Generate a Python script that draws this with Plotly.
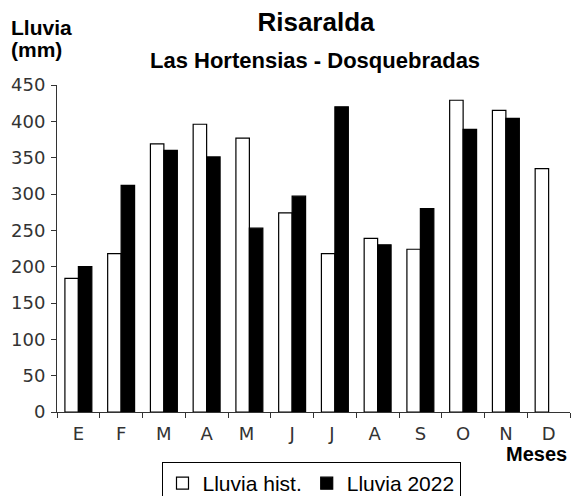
import plotly.graph_objects as go

meses = ["E", "F", "M", "A", "M ", "J", "J ", "A ", "S", "O", "N", "D"]
lluvia_hist = [184, 218, 369, 396, 377, 274, 218, 239, 224, 429, 415, 335]
lluvia_2022 = [200, 312, 360, 351, 253, 297, 420, 230, 280, 389, 404, None]
y_ticks = [0, 50, 100, 150, 200, 250, 300, 350, 400, 450]

W, H = 571, 496
L, R, T, B = 57, 1, 85, 84
pw, ph = W - L - R, H - T - B

def px(x):
    return (x - L) / pw

def py(y):
    return (H - B - y) / ph

fig = go.Figure()
fig.add_trace(go.Bar(x=meses, y=lluvia_hist, name="Lluvia hist.",
                     marker=dict(color="white", line=dict(color="black", width=1.2))))
fig.add_trace(go.Bar(x=meses, y=lluvia_2022, name="Lluvia 2022",
                     marker=dict(color="black", line=dict(color="black", width=1.2))))

tickfont = dict(family="DejaVu Sans", size=18, color="#333333")
fig.update_layout(
    width=W, height=H,
    margin=dict(l=L, r=R, t=T, b=B, pad=0, autoexpand=False),
    paper_bgcolor="white", plot_bgcolor="white",
    barmode="group", bargap=0.37, bargroupgap=0,
    showlegend=True,
    legend=dict(orientation="h", x=311 / W, xref="container", xanchor="center",
                y=1 - 462 / H, yref="container", yanchor="top",
                bordercolor="black", borderwidth=1, itemwidth=30,
                font=dict(family="Liberation Sans", size=21, color="black"),
                tracegroupgap=0, itemclick=False),
    title=dict(text="<b>Risaralda</b>", x=316 / W, xanchor="center", y=1 - 22 / H, yanchor="middle",
               font=dict(family="Liberation Sans", size=26, color="black")),
    xaxis=dict(type="category", showline=True, linecolor="#333333", linewidth=1,
               ticks="outside", ticklen=5, tickcolor="#333333", tickson="boundaries",
               tickfont=tickfont, ticklabelstandoff=5, automargin=False,
               showgrid=False, zeroline=False, fixedrange=True),
    yaxis=dict(range=[0, 450], tickvals=y_ticks, showline=True, linecolor="#333333", linewidth=1,
               ticks="outside", ticklen=5, tickcolor="#333333", tickfont=tickfont,
               ticklabelstandoff=2, automargin=False,
               showgrid=False, zeroline=False, fixedrange=True),
    annotations=[
        dict(text="<b>Las Hortensias - Dosquebradas</b>", xref="paper", yref="paper",
             x=px(315), y=py(60), xanchor="center", yanchor="middle", showarrow=False,
             font=dict(family="Liberation Sans", size=22, color="black")),
        dict(text="<b>Lluvia</b>", xref="paper", yref="paper",
             x=px(9), y=py(28), xanchor="left", yanchor="middle", showarrow=False,
             font=dict(family="Liberation Sans", size=21, color="black")),
        dict(text="<b>(mm)</b>", xref="paper", yref="paper",
             x=px(9), y=py(49), xanchor="left", yanchor="middle", showarrow=False,
             font=dict(family="Liberation Sans", size=21, color="black")),
        dict(text="<b>Meses</b>", xref="paper", yref="paper",
             x=px(569), y=py(454), xanchor="right", yanchor="middle", showarrow=False,
             font=dict(family="Liberation Sans", size=20, color="black")),
    ],
)

fig.write_html("out.html", config={"displayModeBar": False},
               post_script="document.body.style.margin='0px';")
